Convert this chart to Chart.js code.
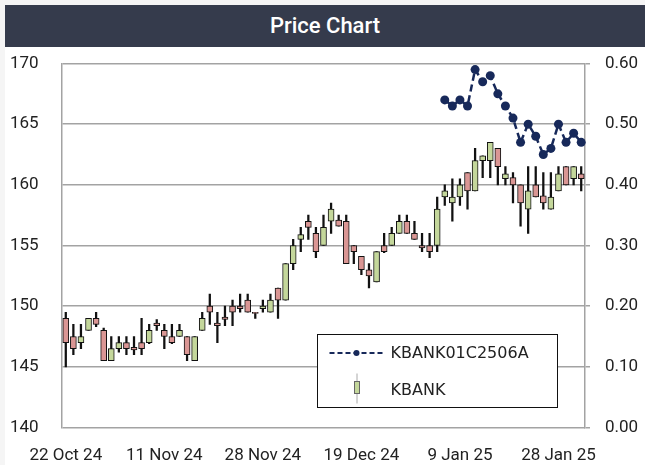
<!DOCTYPE html>
<html>
<head>
<meta charset="utf-8">
<script src="https://cdn.jsdelivr.net/npm/chart.js@4.4.1/dist/chart.umd.min.js"></script>
<style>
  html, body { margin: 0; padding: 0; background: #f5f5f5; }
  #wrap { position: relative; width: 645px; height: 465px; overflow: hidden; }
  #panel { position: absolute; left: 5px; top: 5px; width: 640px; height: 460px; background: #fff; }
  #title { position: absolute; left: 5px; top: 5px; width: 640px; height: 42px; background: #353b4c;
           color: #fff; font: 500 22px Roboto, sans-serif; text-align: center; line-height: 42px; }
  canvas { position: absolute; left: 0; top: 0; }
</style>
</head>
<body>
<div id="wrap">
  <div id="panel"></div>
  <div id="title">Price Chart</div>
  <canvas id="chart" width="645" height="465"></canvas>
</div>
<script>
// trading days, 22 Oct 24 - 31 Jan 25
const dates = [
  '22 Oct 24','24 Oct 24','25 Oct 24','28 Oct 24','29 Oct 24','30 Oct 24','31 Oct 24',
  '1 Nov 24','4 Nov 24','5 Nov 24','6 Nov 24','7 Nov 24','8 Nov 24',
  '11 Nov 24','12 Nov 24','13 Nov 24','14 Nov 24','15 Nov 24',
  '18 Nov 24','19 Nov 24','20 Nov 24','21 Nov 24','22 Nov 24',
  '25 Nov 24','26 Nov 24','27 Nov 24','28 Nov 24','29 Nov 24',
  '2 Dec 24','3 Dec 24','4 Dec 24','6 Dec 24','9 Dec 24','11 Dec 24','12 Dec 24','13 Dec 24',
  '16 Dec 24','17 Dec 24','18 Dec 24','19 Dec 24','20 Dec 24',
  '23 Dec 24','24 Dec 24','25 Dec 24','26 Dec 24','27 Dec 24','30 Dec 24',
  '2 Jan 25','3 Jan 25','6 Jan 25','7 Jan 25','8 Jan 25','9 Jan 25','10 Jan 25',
  '13 Jan 25','14 Jan 25','15 Jan 25','16 Jan 25','17 Jan 25',
  '20 Jan 25','21 Jan 25','22 Jan 25','23 Jan 25','24 Jan 25',
  '27 Jan 25','28 Jan 25','29 Jan 25','30 Jan 25','31 Jan 25'
];

const opens = [
  149.0, 147.5, 147.0, 148.0, 149.0, 148.0, 145.5, 146.5, 147.0, 146.6,
  147.0, 147.0, 148.6, 148.0, 147.5, 147.5, 147.5, 145.5, 148.0, 150.0,
  148.6, 149.1, 150.0, 150.0, 150.5, 149.5, 149.8, 149.5, 151.5, 150.5,
  153.5, 155.5, 157.0, 156.0, 155.0, 157.0, 157.1, 157.0, 155.0, 154.1,
  153.0, 152.0, 155.0, 155.0, 156.0, 157.0, 156.0, 155.0, 155.0, 155.0,
  159.0, 158.5, 159.0, 161.0, 159.5, 162.0, 162.0, 163.0, 160.5, 160.6,
  160.0, 158.0, 160.0, 159.1, 158.0, 159.5, 161.5, 160.5, 160.9
];
const highs = [
  149.5, 148.5, 148.5, 149.0, 149.5, 148.2, 147.5, 147.5, 147.5, 147.5,
  149.0, 148.5, 148.9, 148.5, 148.5, 148.5, 147.5, 147.5, 149.5, 151.0,
  149.5, 150.0, 150.5, 151.0, 151.0, 149.5, 150.5, 151.0, 151.5, 153.5,
  155.5, 156.5, 157.5, 156.5, 157.5, 158.5, 157.5, 157.5, 155.0, 154.1,
  153.5, 154.5, 156.0, 156.5, 157.5, 157.5, 157.0, 156.0, 156.0, 159.0,
  160.0, 160.5, 160.5, 161.0, 163.0, 162.4, 163.5, 163.0, 161.5, 161.0,
  160.0, 161.5, 161.5, 161.0, 161.0, 161.5, 161.5, 161.5, 161.5
];
const lows = [
  145.0, 146.0, 146.5, 148.0, 148.3, 145.5, 145.5, 146.2, 146.0, 146.0,
  146.0, 146.9, 148.0, 146.5, 146.9, 147.5, 145.5, 145.5, 148.0, 148.5,
  147.0, 148.4, 148.4, 149.5, 149.5, 149.0, 149.5, 149.5, 149.0, 150.5,
  153.0, 154.5, 155.5, 154.0, 155.0, 156.0, 156.6, 153.5, 153.5, 152.6,
  151.5, 152.0, 154.4, 155.0, 156.0, 156.0, 155.5, 154.5, 154.0, 154.5,
  158.3, 157.0, 158.3, 158.0, 159.5, 160.6, 160.6, 160.0, 160.0, 158.5,
  156.6, 156.0, 159.0, 158.0, 158.0, 159.5, 160.0, 160.0, 159.5
];
const closes = [
  147.0, 146.5, 147.5, 149.0, 148.5, 145.5, 146.5, 147.0, 146.5, 146.4,
  146.5, 148.0, 148.4, 147.5, 147.0, 148.0, 146.0, 147.5, 149.0, 149.5,
  148.4, 148.9, 149.5, 149.8, 149.5, 149.4, 150.0, 150.5, 150.5, 153.5,
  155.0, 155.9, 156.5, 154.5, 156.5, 158.0, 156.6, 153.5, 154.5, 153.0,
  152.5, 154.5, 154.5, 156.0, 157.0, 156.0, 155.5, 154.8, 154.5, 158.0,
  159.5, 159.0, 160.0, 159.5, 162.0, 162.4, 163.5, 161.5, 160.9, 160.0,
  158.5, 159.5, 159.0, 158.5, 159.0, 160.9, 160.0, 161.5, 160.5
];

// KBANK01C2506A, starts trading on 8 Jan 25 (index 50)
const warrantFrom = 50;
const warrantValues = [
  0.54, 0.53, 0.54, 0.53, 0.59, 0.57, 0.58, 0.55, 0.53, 0.51,
  0.47, 0.50, 0.48, 0.45, 0.46, 0.50, 0.47, 0.485, 0.47
];

const UP = '#c4d79b';
const DOWN = '#da9694';
const NAVY = '#17295a';
const GRID = '#a3a3a3';
const TICK_FONT = { family: 'Roboto, sans-serif', size: 17 };

const warrant = dates.map((d, i) => i < warrantFrom ? null : warrantValues[i - warrantFrom]);

// legend drawn inside the plot, bottom right
const legendBox = {
  id: 'legendBox',
  afterDatasetsDraw(chart) {
    const ctx = chart.ctx;
    const ds = chart.data.datasets;
    const x = 317.5, y = 334.5, w = 240, h = 73;
    ctx.save();
    ctx.fillStyle = '#fff';
    ctx.fillRect(x, y, w, h);
    ctx.strokeStyle = '#111';
    ctx.lineWidth = 1;
    ctx.strokeRect(x, y, w, h);

    // line sample
    ctx.strokeStyle = NAVY;
    ctx.lineWidth = 2;
    ctx.setLineDash([5, 3]);
    ctx.beginPath();
    ctx.moveTo(x + 12, y + 18.5);
    ctx.lineTo(x + 65, y + 18.5);
    ctx.stroke();
    ctx.setLineDash([]);
    ctx.fillStyle = NAVY;
    ctx.beginPath();
    ctx.arc(x + 39, y + 18.5, 3, 0, Math.PI * 2);
    ctx.fill();

    // candle sample
    ctx.strokeStyle = '#aaa';
    ctx.lineWidth = 1;
    ctx.beginPath();
    ctx.moveTo(x + 39.5, y + 39);
    ctx.lineTo(x + 39.5, y + 69);
    ctx.stroke();
    ctx.fillStyle = UP;
    ctx.fillRect(x + 37, y + 47, 5, 12);
    ctx.strokeStyle = '#666';
    ctx.strokeRect(x + 37, y + 47, 5, 12);

    ctx.fillStyle = '#222';
    ctx.font = '16px "DejaVu Sans", sans-serif';
    ctx.textBaseline = 'middle';
    ctx.fillText(ds[2].label, x + 73, y + 19);
    ctx.fillText(ds[1].label, x + 73, y + 56);
    ctx.restore();
  }
};

new Chart(document.getElementById('chart'), {
  data: {
    labels: dates,
    datasets: [
      {
        type: 'bar',
        label: 'wick',
        data: lows.map((l, i) => [l, highs[i]]),
        backgroundColor: '#111',
        barThickness: 1.6,
        grouped: false,
        yAxisID: 'y',
        order: 3
      },
      {
        type: 'bar',
        label: 'KBANK',
        data: opens.map((o, i) => [o, closes[i]]),
        backgroundColor: opens.map((o, i) => closes[i] >= o ? UP : DOWN),
        borderColor: '#111',
        borderWidth: 1,
        borderSkipped: false,
        barThickness: 6,
        grouped: false,
        yAxisID: 'y',
        order: 2
      },
      {
        type: 'line',
        label: 'KBANK01C2506A',
        data: warrant,
        borderColor: NAVY,
        borderWidth: 2.5,
        borderDash: [7, 4],
        pointRadius: 4.5,
        pointBackgroundColor: NAVY,
        pointBorderWidth: 0,
        tension: 0,
        yAxisID: 'y1',
        order: 1
      }
    ]
  },
  options: {
    responsive: false,
    animation: false,
    devicePixelRatio: 1,
    layout: { padding: { left: 10, top: 63.5, right: 0, bottom: 0 } },
    plugins: {
      legend: { display: false },
      tooltip: { enabled: false }
    },
    scales: {
      x: {
        offset: true,
        grid: { display: false },
        border: { display: false },
        afterFit: (s) => { s.height = 37.5; },
        ticks: {
          autoSkip: false,
          maxRotation: 0,
          minRotation: 0,
          padding: 10,
          color: '#222',
          font: TICK_FONT,
          callback: (v, i) => i % 13 === 0 ? dates[i] : ''
        }
      },
      y: {
        position: 'left',
        min: 140,
        max: 170,
        afterFit: (s) => { s.width = 52; },
        grid: { color: GRID, lineWidth: 1.5, drawTicks: false },
        border: { display: true, color: GRID, width: 1.5 },
        ticks: {
          stepSize: 5,
          crossAlign: 'far',
          color: '#222',
          font: TICK_FONT
        }
      },
      y1: {
        position: 'right',
        min: 0,
        max: 0.6,
        afterFit: (s) => { s.width = 60; },
        grid: { drawOnChartArea: false, drawTicks: true, tickLength: 5, color: GRID, lineWidth: 1.5 },
        border: { display: true, color: GRID, width: 1.5 },
        ticks: {
          stepSize: 0.1,
          padding: 15,
          color: '#222',
          font: TICK_FONT,
          callback: (v) => v.toFixed(2)
        }
      }
    }
  },
  plugins: [legendBox]
});
</script>
</body>
</html>
